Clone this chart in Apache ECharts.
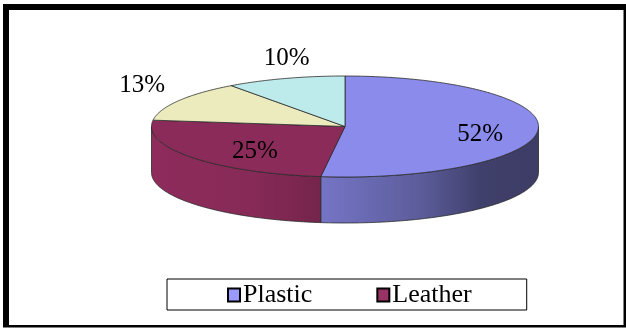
<!DOCTYPE html>
<html><head><meta charset="utf-8">
<script src="https://cdn.jsdelivr.net/npm/echarts@6/dist/echarts.min.js"></script>
<style>html,body{margin:0;padding:0;background:#fff}#c{width:626px;height:329px}</style>
</head><body><div id="c"></div>
<script>
// ---- data ----
const categories = ['Plastic', 'Leather', 'Other 1', 'Other 2'];
const shares = [52, 25, 13, 10];
const labelTexts = ['52%', '25%', '13%', '10%'];
const legendShown = ['Plastic', 'Leather'];

// ---- styles / layout ----
const topColors = ['#8B8BEB', '#8B2B5A', '#EBEBBE', '#BDEBEB'];
const legendColors = ['#9999FF', '#993366', '#FFFFCC', '#CCFFFF'];
const insideLabel = [true, true, false, false];
const labelNudge = [[0, 6], [17, 3], [-7, -3], [12, 3]];
const depthPx = 46;
const SERIF = "'Liberation Serif', 'Times New Roman', 'DejaVu Serif', serif";

function shade(hex, f) {
  const n = parseInt(hex.slice(1), 16);
  const c = [(n >> 16) & 255, (n >> 8) & 255, n & 255].map(v => Math.max(0, Math.min(255, Math.round(v * f))));
  return 'rgb(' + c.join(',') + ')';
}
const sideStops = [[0, 1.02], [0.256, 0.97], [0.424, 0.85], [0.695, 0.66], [0.85, 0.46], [1, 0.43]];

const total = shares.reduce((a, b) => a + b, 0);
let acc = 0;
const ranges = shares.map(v => { const r = [acc / total, (acc + v) / total]; acc += v; return r; });

function renderItem(params, api) {
  const idx = params.seriesIndex;
  const T = Math.PI * 2;
  const th0 = api.value(0) * T, th1 = api.value(1) * T;
  const pt = (th, r) => api.coord([r * Math.sin(th), r * Math.cos(th)]);
  const children = [];
  const xl = api.coord([-1, 0])[0], xr = api.coord([1, 0])[0];
  const s0 = Math.max(th0, Math.PI / 2), s1 = Math.min(th1, 3 * Math.PI / 2);
  if (s1 > s0) {
    const pts = [];
    const n = Math.max(2, Math.ceil((s1 - s0) / 0.01));
    for (let i = 0; i <= n; i++) pts.push(pt(s0 + (s1 - s0) * i / n, 1));
    for (let i = n; i >= 0; i--) { const p = pt(s0 + (s1 - s0) * i / n, 1); pts.push([p[0], p[1] + depthPx]); }
    const grad = new echarts.graphic.LinearGradient(xl, 0, xr, 0,
      sideStops.map(s => ({ offset: s[0], color: shade(topColors[idx], s[1]) })), true);
    children.push({ type: 'polygon', shape: { points: pts }, style: { fill: grad, stroke: '#2a2a2a', lineWidth: 0.8 } });
  }
  const tp = [api.coord([0, 0])];
  const m = Math.max(2, Math.ceil((th1 - th0) / 0.01));
  for (let i = 0; i <= m; i++) tp.push(pt(th0 + (th1 - th0) * i / m, 1));
  children.push({ type: 'polygon', shape: { points: tp }, style: { fill: topColors[idx], stroke: '#2a2a2a', lineWidth: 0.8, lineJoin: 'round' } });
  const mid = (th0 + th1) / 2;
  let lx, ly;
  if (insideLabel[idx]) {
    const p = pt(mid, 0.7); lx = p[0]; ly = p[1];
  } else {
    const p = pt(mid, 1), g = 12, w = 44, h = 24;
    lx = p[0] + Math.sin(mid) * (w / 2 + g);
    ly = p[1] - Math.cos(mid) * (h / 2 + g);
  }
  lx += labelNudge[idx][0]; ly += labelNudge[idx][1];
  children.push({ type: 'text', style: { text: labelTexts[idx], x: lx, y: ly, align: 'center', verticalAlign: 'middle', fontFamily: SERIF, fontSize: 25, fill: '#000' } });
  return { type: 'group', children };
}

function draw() {
  const chart = echarts.init(document.getElementById('c'), null, { renderer: 'canvas' });
  chart.setOption({
    animation: false,
    backgroundColor: '#fff',
    textStyle: { fontFamily: SERIF },
    graphic: [
      { type: 'rect', z: -10, silent: true, shape: { x: 3, y: 4, width: 623, height: 323.5 }, style: { fill: '#000' } },
      { type: 'rect', z: -9, silent: true, shape: { x: 9, y: 10, width: 614.5, height: 315 }, style: { fill: '#fff' } }
    ],
    grid: { left: 151.5, top: 76, width: 387, height: 101, show: false },
    xAxis: { type: 'value', min: -1, max: 1, show: false },
    yAxis: { type: 'value', min: -1, max: 1, show: false },
    legend: {
      data: legendShown,
      left: 167, top: 279,
      padding: [3, 55, 2, 60],
      itemGap: 64, itemWidth: 12, itemHeight: 13,
      icon: 'rect',
      itemStyle: { borderColor: '#000', borderWidth: 2 },
      backgroundColor: '#fff', borderColor: '#000', borderWidth: 1,
      textStyle: { fontFamily: SERIF, fontSize: 26, color: '#000', padding: [0, 0, 0, -2] }
    },
    series: categories.map((name, i) => ({
      type: 'custom',
      name: name,
      coordinateSystem: 'cartesian2d',
      clip: false,
      itemStyle: { color: legendColors[i] },
      renderItem: renderItem,
      data: [ranges[i]]
    }))
  });
}
if (document.fonts && document.fonts.load) {
  document.fonts.load("25px 'Liberation Serif'").then(draw, draw);
} else { draw(); }
</script></body></html>
